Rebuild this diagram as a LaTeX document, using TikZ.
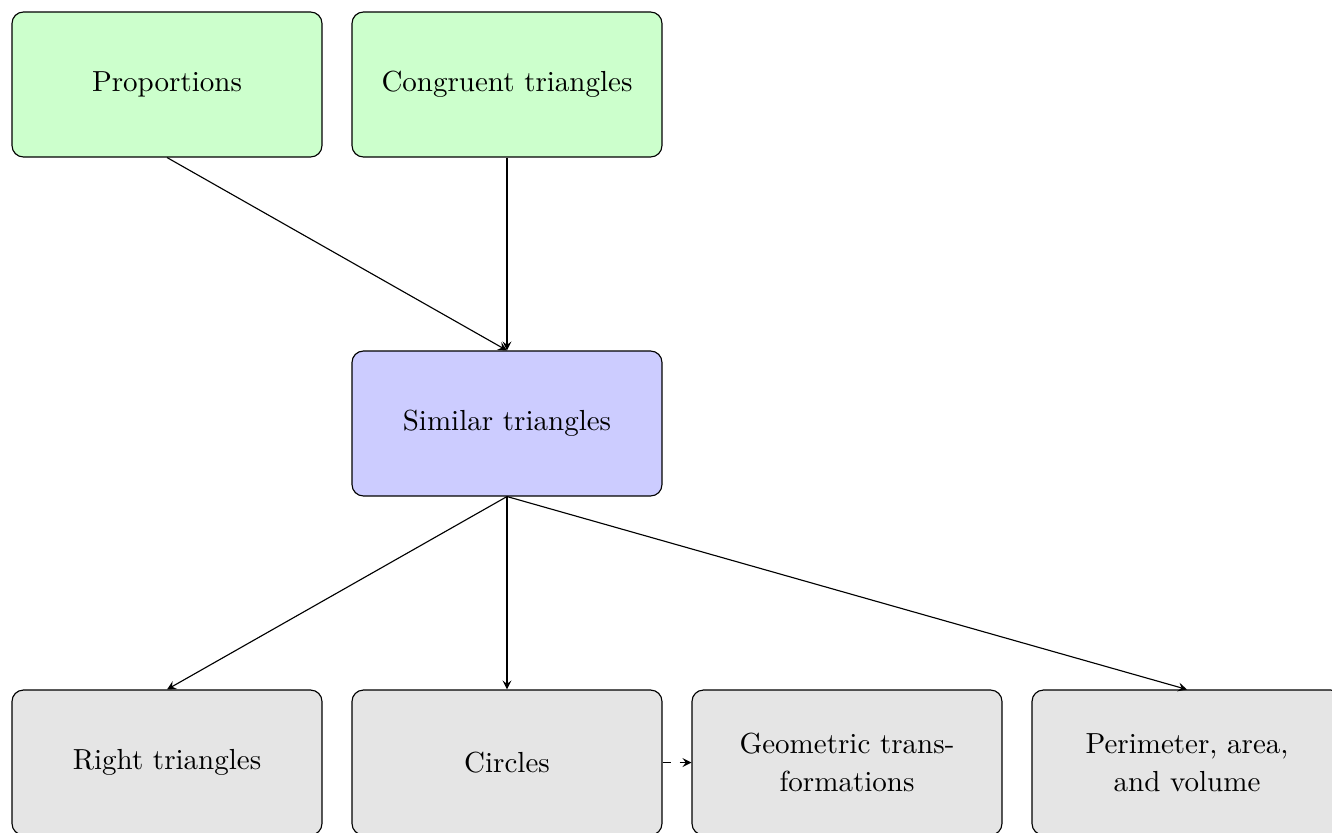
\documentclass[tikz,border=0pt]{standalone}
\usetikzlibrary{arrows}
\begin{document}
\begin{tikzpicture}[x=0.3533pt,y=-0.3533pt,
  box/.style={draw,line width=0.4pt,rounded corners=4pt,minimum width=109.5pt,minimum height=51.2pt,align=center,inner sep=0pt,font=\fontsize{10.25}{13.4}\selectfont},
  greenbox/.style={box,fill=green!20},
  bluebox/.style={box,fill=blue!20},
  graybox/.style={box,fill=gray!20},
  arr/.style={-stealth,line width=0.4pt},
  darr/.style={-stealth,line width=0.4pt,dashed}]
\useasboundingbox (0,0) rectangle (1332,832);
\clip (0,0) rectangle (1332,832);
\node[greenbox] (prop) at (167,84.5) {Proportions};
\node[greenbox] (cong) at (507,84.5) {Congruent triangles};
\node[bluebox] (sim) at (507,423.5) {Similar triangles};
\node[graybox] (right) at (167,762.5) {Right triangles};
\node[graybox] (circ) at (507,762.5) {Circles};
\node[graybox] (geo) at (847,762.5) {Geometric trans-\\formations};
\node[graybox] (per) at (1187,762.5) {Perimeter, area,\\and volume};
\draw[arr] (prop.south) -- (sim.north);
\draw[arr] (cong.south) -- (sim.north);
\draw[arr] (sim.south) -- (right.north);
\draw[arr] (sim.south) -- (circ.north);
\draw[arr] (sim.south) -- (per.north);
\draw[darr] (circ.east) -- (geo.west);
\end{tikzpicture}
\end{document}
